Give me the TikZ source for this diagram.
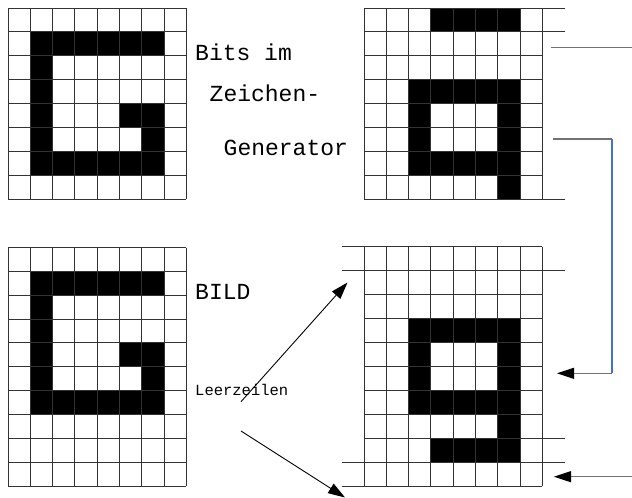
\documentclass[tikz,border=0pt]{standalone}
\usepackage{fontspec}
\newfontfamily\monofont{Liberation Mono}
\usetikzlibrary{arrows.meta,positioning}
\definecolor{linkblue}{RGB}{68,114,196}
\tikzset{
  gridline/.style={draw=black!80, line width=1pt},
  pixel/.style={fill=black},
  txt/.style={inner sep=0pt, anchor=base west, font=\monofont\fontsize{23}{27}\selectfont},
  smalltxt/.style={inner sep=0pt, anchor=base west, font=\monofont\fontsize{15.5}{18}\selectfont},
  arrow/.style={-{Triangle[length=17pt,width=11pt,black]}, line width=0.9pt},
  feed/.style={draw=black!55, line width=1.3pt},
  bluefeed/.style={draw=linkblue, line width=1.3pt}
}
\newcommand{\pixG}{%
  \fill[pixel] (1,1) rectangle (7,2) (1,2) rectangle (2,7) (2,6) rectangle (7,7)
    (5,4) rectangle (7,5) (6,5) rectangle (7,6);}

\begin{document}
\begin{tikzpicture}[x=1pt,y=-1pt]
\useasboundingbox (0,0) rectangle (632,498);
% G im Zeichengenerator
\begin{scope}[shift={(8,8)},x=22.3pt,y=-23.9pt]
  \pixG
  \foreach \i in {0,...,8} \draw[gridline] (\i,0) -- (\i,8);
  \foreach \j in {0,...,8} \draw[gridline] (0,\j) -- (8,\j);
\end{scope}
% G im Bild
\begin{scope}[shift={(8,247.5)},x=22.3pt,y=-23.85pt]
  \pixG
  \foreach \i in {0,...,8} \draw[gridline] (\i,0) -- (\i,10);
  \foreach \j in {0,...,10} \draw[gridline] (0,\j) -- (8,\j);
\end{scope}
% g im Zeichengenerator
\begin{scope}[shift={(364,8)},x=22.3pt,y=-23.9pt]
  \fill[pixel] (3,0) rectangle (7,1) (2,3) rectangle (7,4) (2,4) rectangle (3,6)
    (2,6) rectangle (6,7) (6,4) rectangle (7,8);
  \foreach \i in {0,...,8} \draw[gridline] (\i,0) -- (\i,8);
  \foreach \j in {2,...,7} \draw[gridline] (0,\j) -- (8,\j);
  \foreach \j in {0,1,8} \draw[gridline] (0,\j) -- (9,\j);
\end{scope}
% g im Bild
\begin{scope}[shift={(364,246.7)},x=22.3pt,y=-23.93pt]
  \fill[pixel] (2,3) rectangle (7,4) (2,4) rectangle (3,6) (2,6) rectangle (6,7)
    (6,4) rectangle (7,9) (3,8) rectangle (6,9);
  \foreach \i in {0,...,8} \draw[gridline] (\i,0) -- (\i,10);
  \foreach \j in {2,...,7} \draw[gridline] (0,\j) -- (8,\j);
  \foreach \j in {1,9} \draw[gridline] (-1,\j) -- (9,\j);
  \foreach \j in {0,10} \draw[gridline] (-1,\j) -- (8,\j);
  \draw[gridline] (0,8) -- (9,8);
\end{scope}

\node[txt] (bits) at (195,60) {Bits im};
\node[txt] (zeichen) at (209.5,101.5) {Zeichen-};
\node[txt] (generator) at (223.5,155.5) {Generator};
\node[txt] (bild) at (195,299.3) {BILD};
\node[smalltxt] (leer) at (195,395) {Leerzeilen};

\coordinate (tapA) at (551,47.7);
\coordinate (tapAend) at (632,47.7);
\coordinate (tapB) at (553,139);
\coordinate (bendB) at (612,139);
\coordinate (bendC) at (612,373.3);
\coordinate (rowB) at (557,373.3);
\coordinate (inC) at (632,476.7);
\coordinate (rowC) at (554,476.7);
\coordinate (leerA) at (241,401.7);
\coordinate (leerB) at (241,431);
\coordinate (gapTop) at (347.5,282.5);
\coordinate (gapBottom) at (345,497.5);

\draw[feed] (tapA) -- (tapAend);
\draw[feed] (tapB) -- (bendB);
\draw[bluefeed] (bendB) -- (bendC);
\draw[feed, arrow] (bendC) -- (rowB);
\draw[feed, arrow] (inC) -- (rowC);
\draw[arrow] (leerA) -- (gapTop);
\draw[arrow] (leerB) -- (gapBottom);
\end{tikzpicture}
\end{document}
